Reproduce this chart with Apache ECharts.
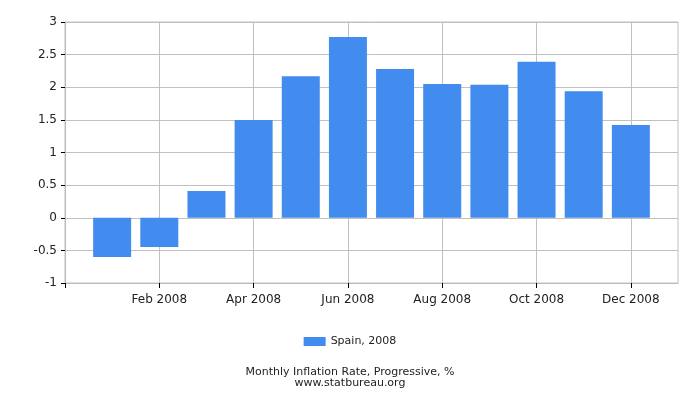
<!DOCTYPE html>
<html>
<head>
<meta charset="utf-8">
<script src="https://cdn.jsdelivr.net/npm/echarts@6/dist/echarts.min.js"></script>
<style>
html,body{margin:0;padding:0;background:#fff;}
#chart{width:700px;height:400px;}
</style>
</head>
<body>
<div id="chart"></div>
<script>
const months = ['Jan 2008','Feb 2008','Mar 2008','Apr 2008','May 2008','Jun 2008','Jul 2008','Aug 2008','Sep 2008','Oct 2008','Nov 2008','Dec 2008'];
const spain2008 = [-0.6, -0.45, 0.41, 1.5, 2.17, 2.77, 2.28, 2.05, 2.04, 2.39, 1.94, 1.42];
const yTicks = [-1, -0.5, 0, 0.5, 1, 1.5, 2, 2.5, 3];
const seriesName = 'Spain, 2008';
const titleLines = ['Monthly Inflation Rate, Progressive, %', 'www.statbureau.org'];

// pad one empty slot each side so months sit on ticks
const categories = [''].concat(months, ['']);
const values = [null].concat(spain2008, [null]);

const font = 'DejaVu Sans';
const chart = echarts.init(document.getElementById('chart'), null, {renderer: 'canvas'});
const even = (i) => i % 2 === 0 && i < 13;
chart.setOption({
  animation: false,
  textStyle: {fontFamily: font},
  grid: {left: 65, right: 22, top: 22, bottom: 117, show: true, borderColor: '#c0c0c0', borderWidth: 1},
  title: {
    text: titleLines.join('\n'),
    left: 'center', top: 362,
    textStyle: {fontFamily: font, fontSize: 11, fontWeight: 'normal', color: '#222', lineHeight: 11}
  },
  legend: {
    data: [seriesName], top: 331, left: 'center',
    itemWidth: 22, itemHeight: 9, itemGap: 5,
    icon: 'rect',
    textStyle: {fontFamily: font, fontSize: 11, color: '#222'}
  },
  xAxis: {
    type: 'category', data: categories, boundaryGap: false,
    axisLine: {onZero: false, lineStyle: {color: '#bbb'}},
    axisTick: {show: true, interval: even, length: 5, lineStyle: {color: '#000'}},
    axisLabel: {interval: (i) => i % 2 === 0 && i > 0 && i < 13, fontFamily: font, fontSize: 12, color: '#222', margin: 11},
    splitLine: {show: true, interval: even, lineStyle: {color: '#c0c0c0'}}
  },
  yAxis: {
    type: 'value', min: yTicks[0], max: yTicks[yTicks.length - 1], interval: 0.5,
    axisLine: {show: true, lineStyle: {color: '#bbb'}},
    axisTick: {show: true, length: 4, lineStyle: {color: '#000'}},
    axisLabel: {fontFamily: font, fontSize: 12, color: '#222', margin: 8},
    splitLine: {show: true, lineStyle: {color: '#c0c0c0'}}
  },
  series: [{
    name: seriesName, type: 'bar', data: values, barWidth: 38,
    itemStyle: {color: '#428bef'}
  }]
});
</script>
</body>
</html>
